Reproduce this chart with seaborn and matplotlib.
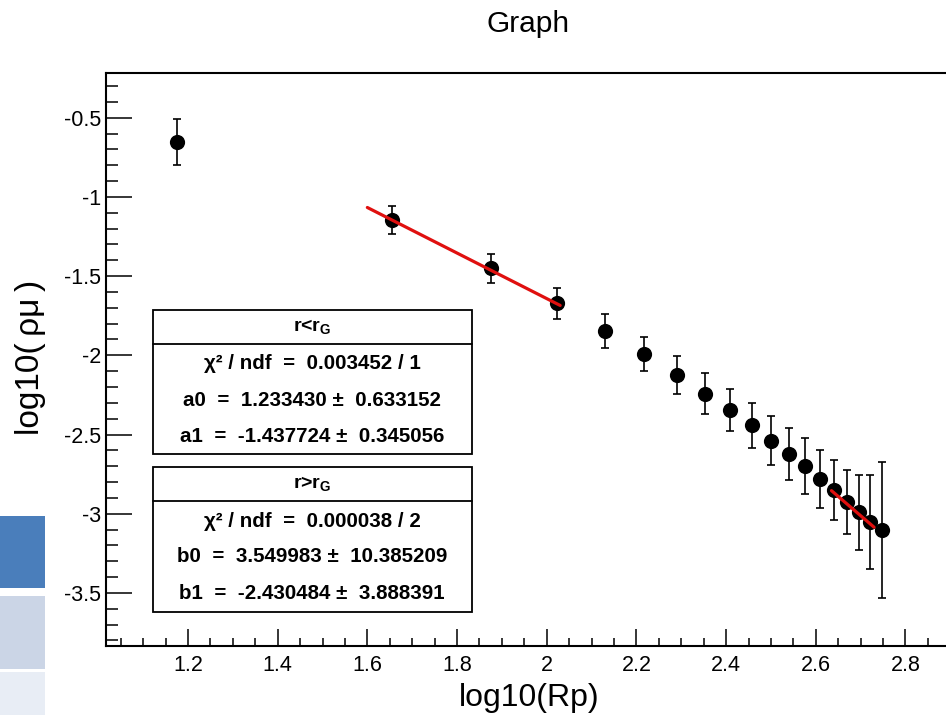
import numpy as np
import pandas as pd
import matplotlib
matplotlib.use("Agg")
import matplotlib.pyplot as plt
import seaborn as sns
from matplotlib.ticker import MultipleLocator, FuncFormatter
from matplotlib.patches import Rectangle
from matplotlib.lines import Line2D

# ---------------- data ----------------
log_rp = [1.176, 1.655, 1.876, 2.023, 2.131, 2.218, 2.291, 2.353, 2.409, 2.457,
          2.501, 2.540, 2.575, 2.609, 2.640, 2.669, 2.697, 2.722, 2.748]
log_rho = [-0.653, -1.146, -1.451, -1.672, -1.847, -1.992, -2.126, -2.242, -2.345, -2.442,
           -2.539, -2.625, -2.699, -2.781, -2.850, -2.926, -2.992, -3.050, -3.103]
err_rho = [0.145, 0.086, 0.092, 0.100, 0.105, 0.110, 0.120, 0.131, 0.134, 0.144,
           0.153, 0.164, 0.174, 0.182, 0.188, 0.200, 0.235, 0.297, 0.431]

# fit parameters
a0, a1 = 1.233430, -1.437724
b0, b1 = 3.549983, -2.430484
fit1_range = [1.60, 2.03]
fit2_range = [2.635, 2.73]

box1_lines = ["χ² / ndf  =  0.003452 / 1",
              "a0  =  1.233430 ±  0.633152",
              "a1  =  -1.437724 ±  0.345056"]
box2_lines = ["χ² / ndf  =  0.000038 / 2",
              "b0  =  3.549983 ±  10.385209",
              "b1  =  -2.430484 ±  3.888391"]

# ---------------- style ----------------
sns.set_style("ticks")
plt.rcParams["font.family"] = ["Liberation Sans", "DejaVu Sans"]
plt.rcParams["axes.unicode_minus"] = False
plt.rcParams["text.color"] = "black"
plt.rcParams["axes.labelcolor"] = "black"
plt.rcParams["xtick.color"] = "black"
plt.rcParams["ytick.color"] = "black"
plt.rcParams["mathtext.fontset"] = "custom"
plt.rcParams["mathtext.rm"] = "Liberation Sans:bold"
plt.rcParams["mathtext.it"] = "Liberation Sans:bold"
plt.rcParams["mathtext.bf"] = "Liberation Sans:bold"

W, H = 946, 715
fig = plt.figure(figsize=(W / 100, H / 100), dpi=100)

def fx(px):
    return px / W

def fy(py):
    return 1 - py / H

ax_left, ax_right, ax_top, ax_bot = 106, 953, 72.7, 646
ax = fig.add_axes([fx(ax_left), fy(ax_bot), (ax_right - ax_left) / W, (ax_bot - ax_top) / H])

df = pd.DataFrame({"x": log_rp, "y": log_rho, "err": err_rho})

ax.errorbar(df["x"], df["y"], yerr=df["err"], fmt="none", ecolor="black",
            elinewidth=1.2, capsize=2.6, capthick=1.2, zorder=2)
sns.scatterplot(data=df, x="x", y="y", ax=ax, color="black", s=120,
                linewidth=0, zorder=3, legend=False)

fit1 = pd.DataFrame({"x": fit1_range})
fit1["y"] = a0 + a1 * fit1["x"]
fit2 = pd.DataFrame({"x": fit2_range})
fit2["y"] = b0 + b1 * fit2["x"]
sns.lineplot(data=fit1, x="x", y="y", ax=ax, color="#e0100f", linewidth=2.3, zorder=4)
sns.lineplot(data=fit2, x="x", y="y", ax=ax, color="#e0100f", linewidth=2.3, zorder=4)

ax.set_xlim(1.0172, 2.906)
ax.set_ylim(-3.835, -0.216)

ax.xaxis.set_major_locator(MultipleLocator(0.2))
ax.xaxis.set_minor_locator(MultipleLocator(0.05))
ax.yaxis.set_major_locator(MultipleLocator(0.5))
ax.yaxis.set_minor_locator(MultipleLocator(0.1))
fmt = FuncFormatter(lambda v, p: ("%g" % round(v, 3)))
ax.xaxis.set_major_formatter(fmt)
ax.yaxis.set_major_formatter(fmt)

ax.tick_params(axis="x", which="major", direction="in", length=12.2, width=1.1,
               labelsize=15.5, pad=6.5, top=False)
ax.tick_params(axis="x", which="minor", direction="in", length=5.5, width=1.1, top=False)
ax.tick_params(axis="y", which="major", direction="in", length=18.7, width=1.1,
               labelsize=15.5, pad=3.6, right=False)
ax.tick_params(axis="y", which="minor", direction="in", length=8.6, width=1.1, right=False)
for s in ax.spines.values():
    s.set_linewidth(1.5)
    s.set_color("black")

ax.set_xlabel("")
ax.set_ylabel("")
fig.text(fx(529), fy(698), "log10(Rp)", ha="center", va="center", fontsize=23)
fig.text(fx(30), fy(357), "log10(\u2009ρμ\u2009)", ha="center", va="center", fontsize=24,
         rotation=90)
fig.text(fx(528), fy(24), "Graph", ha="center", va="center", fontsize=21.5)

# ---------------- stat boxes ----------------
def stat_box(top, div, bot, header, lines, rows_y):
    left, right = 152.7, 471.7
    fig.patches.append(Rectangle((fx(left), fy(bot)), (right - left) / W, (bot - top) / H,
                                 transform=fig.transFigure, facecolor="white",
                                 edgecolor="black", linewidth=1.3, zorder=5))
    fig.lines.append(Line2D([fx(left), fx(right)], [fy(div), fy(div)],
                            transform=fig.transFigure, color="black", linewidth=1.3, zorder=6))
    cx = fx((left + right) / 2)
    fig.text(cx, fy((top + div) / 2), header, ha="center", va="center",
             fontsize=14, fontweight="bold", zorder=7)
    for ln, yy in zip(lines, rows_y):
        fig.text(cx, fy(yy), ln, ha="center", va="center", fontsize=14.8,
                 fontweight="bold", zorder=7)

stat_box(310, 344, 454, r"r<r$_{\mathregular{G}}$", box1_lines, [364, 400, 436])
stat_box(466.7, 501, 611.7, r"r>r$_{\mathregular{G}}$", box2_lines, [521.7, 556.7, 593.3])

# ---------------- background fragments at bottom-left ----------------
for (y0, y1, c) in [(515.7, 587.7, "#4a7ebb"), (595.7, 669, "#cbd5e6"), (671.7, 715, "#e8edf5")]:
    fig.patches.append(Rectangle((0, fy(y1)), fx(45), (y1 - y0) / H,
                                 transform=fig.transFigure, facecolor=c,
                                 edgecolor="none", zorder=0))

fig.savefig("out.png", dpi=100)
